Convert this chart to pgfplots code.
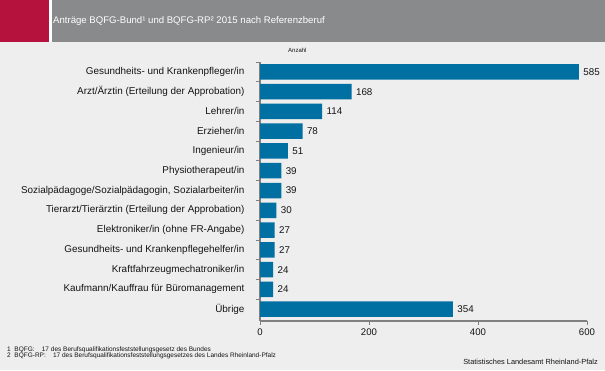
\documentclass[border=0pt]{standalone}
\usepackage{pgfplots}
\pgfplotsset{compat=1.18}
\usepackage{fontspec}
\setmainfont{Liberation Sans}
\definecolor{bg}{RGB}{237,238,237}
\definecolor{redb}{RGB}{181,18,62}
\definecolor{grayb}{RGB}{137,138,139}
\definecolor{barblue}{RGB}{0,112,162}
\definecolor{axgray}{RGB}{128,128,128}
\definecolor{txt}{RGB}{20,20,20}
\begin{document}
\begin{tikzpicture}
\path[use as bounding box, fill=bg] (0pt,0pt) rectangle (605pt,370pt);
\fill[redb] (0pt,328pt) rectangle (49pt,370pt);
\fill[white] (49pt,328pt) rectangle (52pt,370pt);
\fill[grayb] (52pt,328pt) rectangle (605pt,370pt);
\node[anchor=west, text=white, font=\fontsize{9.6}{11}\selectfont, inner sep=0] at (53pt,349pt) {Anträge BQFG-Bund¹ und BQFG-RP² 2015 nach Referenzberuf};
\node[anchor=west, text=txt, font=\fontsize{6}{7}\selectfont, inner sep=0] at (288pt,320pt) {Anzahl};
\node[anchor=west, text=txt, font=\fontsize{6.5}{7}\selectfont, inner sep=0] at (7pt,20pt) {1\ \ BQFG:\ \ \ \ 17 des Berufsqualifikationsfeststellungsgesetz des Bundes};
\node[anchor=west, text=txt, font=\fontsize{6.5}{7}\selectfont, inner sep=0] at (7pt,14pt) {2\ \ BQFG-RP:\ \ \ \ 17 des Berufsqualifikationsfeststellungsgesetzes des Landes Rheinland-Pfalz};
\node[anchor=east, text=txt, font=\fontsize{7.4}{8}\selectfont, inner sep=0] at (598pt,8pt) {Statistisches Landesamt Rheinland-Pfalz};
\begin{axis}[
  at={(260pt,49pt)}, anchor=south west,
  scale only axis, width=327pt, height=259pt,
  xbar, bar width=15.5pt,
  xmin=0, xmax=600,
  ymin=-0.5, ymax=12.6, y dir=reverse,
  axis lines*=left,
  axis line style={draw=axgray, line width=1.2pt},
  xtick={0,200,400,600},
  xtick style={draw=axgray, line width=1pt},
  major tick length=4pt,
  tick align=outside,
  ytick={0,...,12},
  ytick style={draw=none},
  minor ytick={-0.5,0.5,1.5,2.5,3.5,4.5,5.5,6.5,7.5,8.5,9.5,10.5,11.5},
  minor y tick style={draw=axgray, line width=0.8pt},
  minor tick length=4pt,
  yticklabels={
    Gesundheits- und Krankenpfleger/in,
    Arzt/Ärztin (Erteilung der Approbation),
    Lehrer/in,
    Erzieher/in,
    Ingenieur/in,
    Physiotherapeut/in,
    {Sozialpädagoge/Sozialpädagogin, Sozialarbeiter/in},
    Tierarzt/Tierärztin (Erteilung der Approbation),
    Elektroniker/in (ohne FR-Angabe),
    Gesundheits- und Krankenpflegehelfer/in,
    Kraftfahrzeugmechatroniker/in,
    Kaufmann/Kauffrau für Büromanagement,
    Übrige},
  yticklabel style={font=\fontsize{9.9}{11}\selectfont, text=txt, xshift=-8pt},
  xticklabel style={font=\fontsize{9.6}{11}\selectfont, text=txt},
  /pgf/number format/assume math mode=true,
  nodes near coords,
  nodes near coords style={font=\fontsize{9.8}{11}\selectfont, text=txt, xshift=1pt},
  clip=false,
]
\addplot[fill=barblue, draw=none] coordinates {
  (585,0) (168,1) (114,2) (78,3) (51,4) (39,5) (39,6) (30,7) (27,8) (27,9) (24,10) (24,11) (354,12)};
\end{axis}
\end{tikzpicture}
\end{document}
